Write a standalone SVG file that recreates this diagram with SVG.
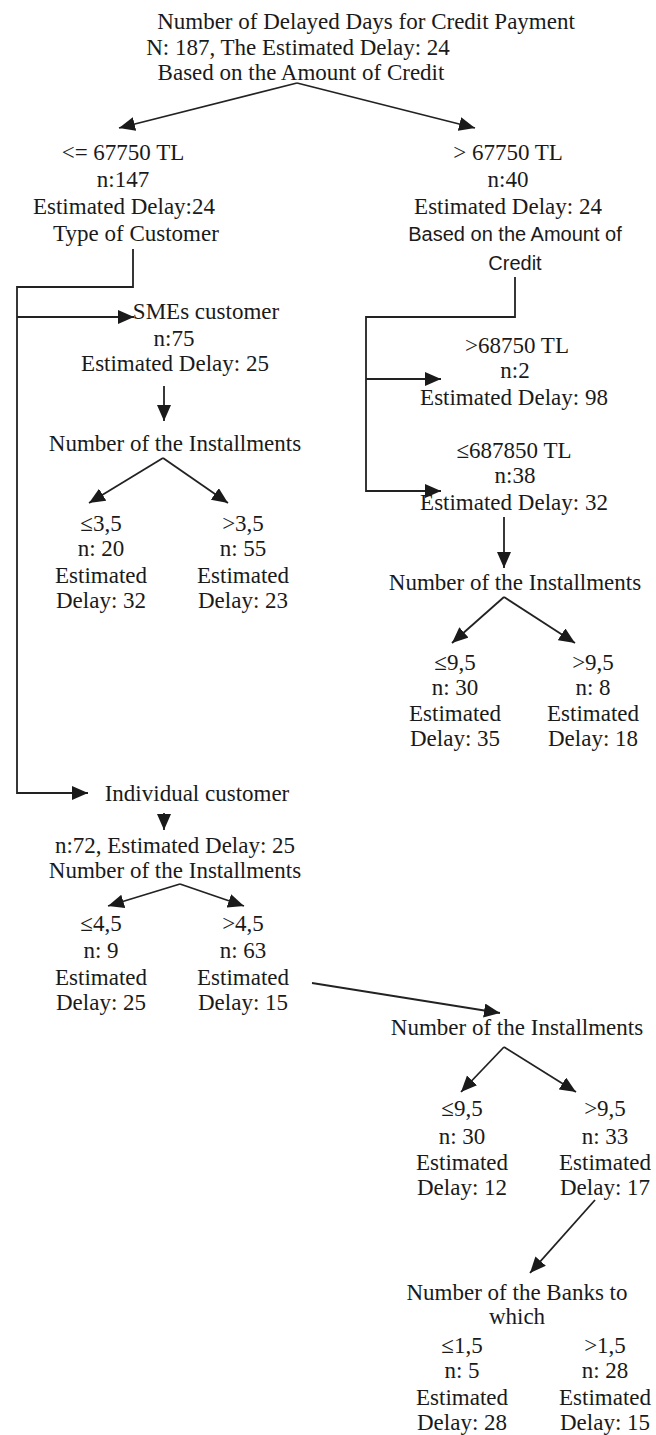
<svg xmlns="http://www.w3.org/2000/svg" width="656" height="1435" viewBox="0 0 656 1435">
<style>
text{font-family:"Liberation Serif","Times New Roman",serif;font-size:23px;fill:#1a1a1a;text-anchor:middle}
.s{font-family:"Liberation Sans",Arial,sans-serif;font-size:20px}
.c{fill:none;stroke:#222;stroke-width:1.8}
</style>
<defs>
<marker id="ah" markerUnits="userSpaceOnUse" markerWidth="17" markerHeight="15" refX="16" refY="7" orient="auto">
<path d="M0,0 L16,7 L0,14 z" fill="#1a1a1a"/>
</marker>
</defs>
<rect width="656" height="1435" fill="#fff"/>
<g id="connectors">
<path class="c" d="M297,83 L119,128" marker-end="url(#ah)"/>
<path class="c" d="M297,83 L475,128" marker-end="url(#ah)"/>
<path class="c" d="M133,249 V287 H17 V793 H88" marker-end="url(#ah)"/>
<path class="c" d="M17,317 H134" marker-end="url(#ah)"/>
<path class="c" d="M164,386 V421" marker-end="url(#ah)"/>
<path class="c" d="M163,458 L89,503" marker-end="url(#ah)"/>
<path class="c" d="M163,458 L228,503" marker-end="url(#ah)"/>
<path class="c" d="M515,277 V317 H366 V491 H441" marker-end="url(#ah)"/>
<path class="c" d="M366,379 H441" marker-end="url(#ah)"/>
<path class="c" d="M504,517 V568" marker-end="url(#ah)"/>
<path class="c" d="M504,597 L452,643" marker-end="url(#ah)"/>
<path class="c" d="M504,597 L575,643" marker-end="url(#ah)"/>
<path class="c" d="M164,813 V830" marker-end="url(#ah)"/>
<path class="c" d="M180,884 L108,906" marker-end="url(#ah)"/>
<path class="c" d="M180,884 L244,906" marker-end="url(#ah)"/>
<path class="c" d="M312,983 L500,1013" marker-end="url(#ah)"/>
<path class="c" d="M504,1047 L461,1092" marker-end="url(#ah)"/>
<path class="c" d="M504,1047 L576,1092" marker-end="url(#ah)"/>
<path class="c" d="M595,1200 L530,1273" marker-end="url(#ah)"/>
</g>
<g id="root">
<text x="366" y="29">Number of Delayed Days for Credit Payment</text>
<text x="298" y="55">N: 187, The Estimated Delay: 24</text>
<text x="301" y="80">Based on the Amount of Credit</text>
</g>
<g id="left1">
<text x="123" y="160">&lt;= 67750 TL</text>
<text x="123" y="187">n:147</text>
<text x="124" y="214">Estimated Delay:24</text>
<text x="136" y="241">Type of Customer</text>
</g>
<g id="right1">
<text x="508" y="160">&gt; 67750 TL</text>
<text x="508" y="187">n:40</text>
<text x="508" y="214">Estimated Delay: 24</text>
<text class="s" x="515" y="241">Based on the Amount of</text>
<text class="s" x="515" y="270">Credit</text>
</g>
<g id="smes">
<text x="206" y="319">SMEs customer</text>
<text x="174" y="346">n:75</text>
<text x="175" y="371">Estimated Delay: 25</text>
</g>
<g id="smes-inst">
<text x="175" y="451">Number of the Installments</text>
</g>
<g id="smes-le">
<text x="101" y="531">≤3,5</text>
<text x="101" y="556">n: 20</text>
<text x="101" y="583">Estimated</text>
<text x="101" y="608">Delay: 32</text>
</g>
<g id="smes-gt">
<text x="243" y="531">&gt;3,5</text>
<text x="243" y="556">n: 55</text>
<text x="243" y="583">Estimated</text>
<text x="243" y="608">Delay: 23</text>
</g>
<g id="r-gt">
<text x="517" y="353">&gt;68750 TL</text>
<text x="515" y="378">n:2</text>
<text x="514" y="405">Estimated Delay: 98</text>
</g>
<g id="r-le">
<text x="514" y="458">≤687850 TL</text>
<text x="515" y="483">n:38</text>
<text x="514" y="510">Estimated Delay: 32</text>
</g>
<g id="r-inst">
<text x="515" y="590">Number of the Installments</text>
</g>
<g id="r-inst-le">
<text x="455" y="670">≤9,5</text>
<text x="455" y="695">n: 30</text>
<text x="455" y="721">Estimated</text>
<text x="455" y="746">Delay: 35</text>
</g>
<g id="r-inst-gt">
<text x="593" y="670">&gt;9,5</text>
<text x="593" y="695">n: 8</text>
<text x="593" y="721">Estimated</text>
<text x="593" y="746">Delay: 18</text>
</g>
<g id="individual">
<text x="197" y="801">Individual customer</text>
</g>
<g id="ind-inst">
<text x="175" y="853">n:72, Estimated Delay: 25</text>
<text x="175" y="878">Number of the Installments</text>
</g>
<g id="ind-le">
<text x="101" y="931">≤4,5</text>
<text x="101" y="958">n: 9</text>
<text x="101" y="985">Estimated</text>
<text x="101" y="1010">Delay: 25</text>
</g>
<g id="ind-gt">
<text x="243" y="931">&gt;4,5</text>
<text x="243" y="958">n: 63</text>
<text x="243" y="985">Estimated</text>
<text x="243" y="1010">Delay: 15</text>
</g>
<g id="ind2-inst">
<text x="517" y="1035">Number of the Installments</text>
</g>
<g id="ind2-le">
<text x="462" y="1116">≤9,5</text>
<text x="462" y="1144">n: 30</text>
<text x="462" y="1170">Estimated</text>
<text x="462" y="1195">Delay: 12</text>
</g>
<g id="ind2-gt">
<text x="605" y="1116">&gt;9,5</text>
<text x="605" y="1144">n: 33</text>
<text x="605" y="1170">Estimated</text>
<text x="605" y="1195">Delay: 17</text>
</g>
<g id="banks">
<text x="517" y="1300">Number of the Banks to</text>
<text x="517" y="1324">which</text>
</g>
<g id="banks-le">
<text x="462" y="1353">≤1,5</text>
<text x="462" y="1378">n: 5</text>
<text x="462" y="1405">Estimated</text>
<text x="462" y="1430">Delay: 28</text>
</g>
<g id="banks-gt">
<text x="605" y="1353">&gt;1,5</text>
<text x="605" y="1378">n: 28</text>
<text x="605" y="1405">Estimated</text>
<text x="605" y="1430">Delay: 15</text>
</g>
</svg>
